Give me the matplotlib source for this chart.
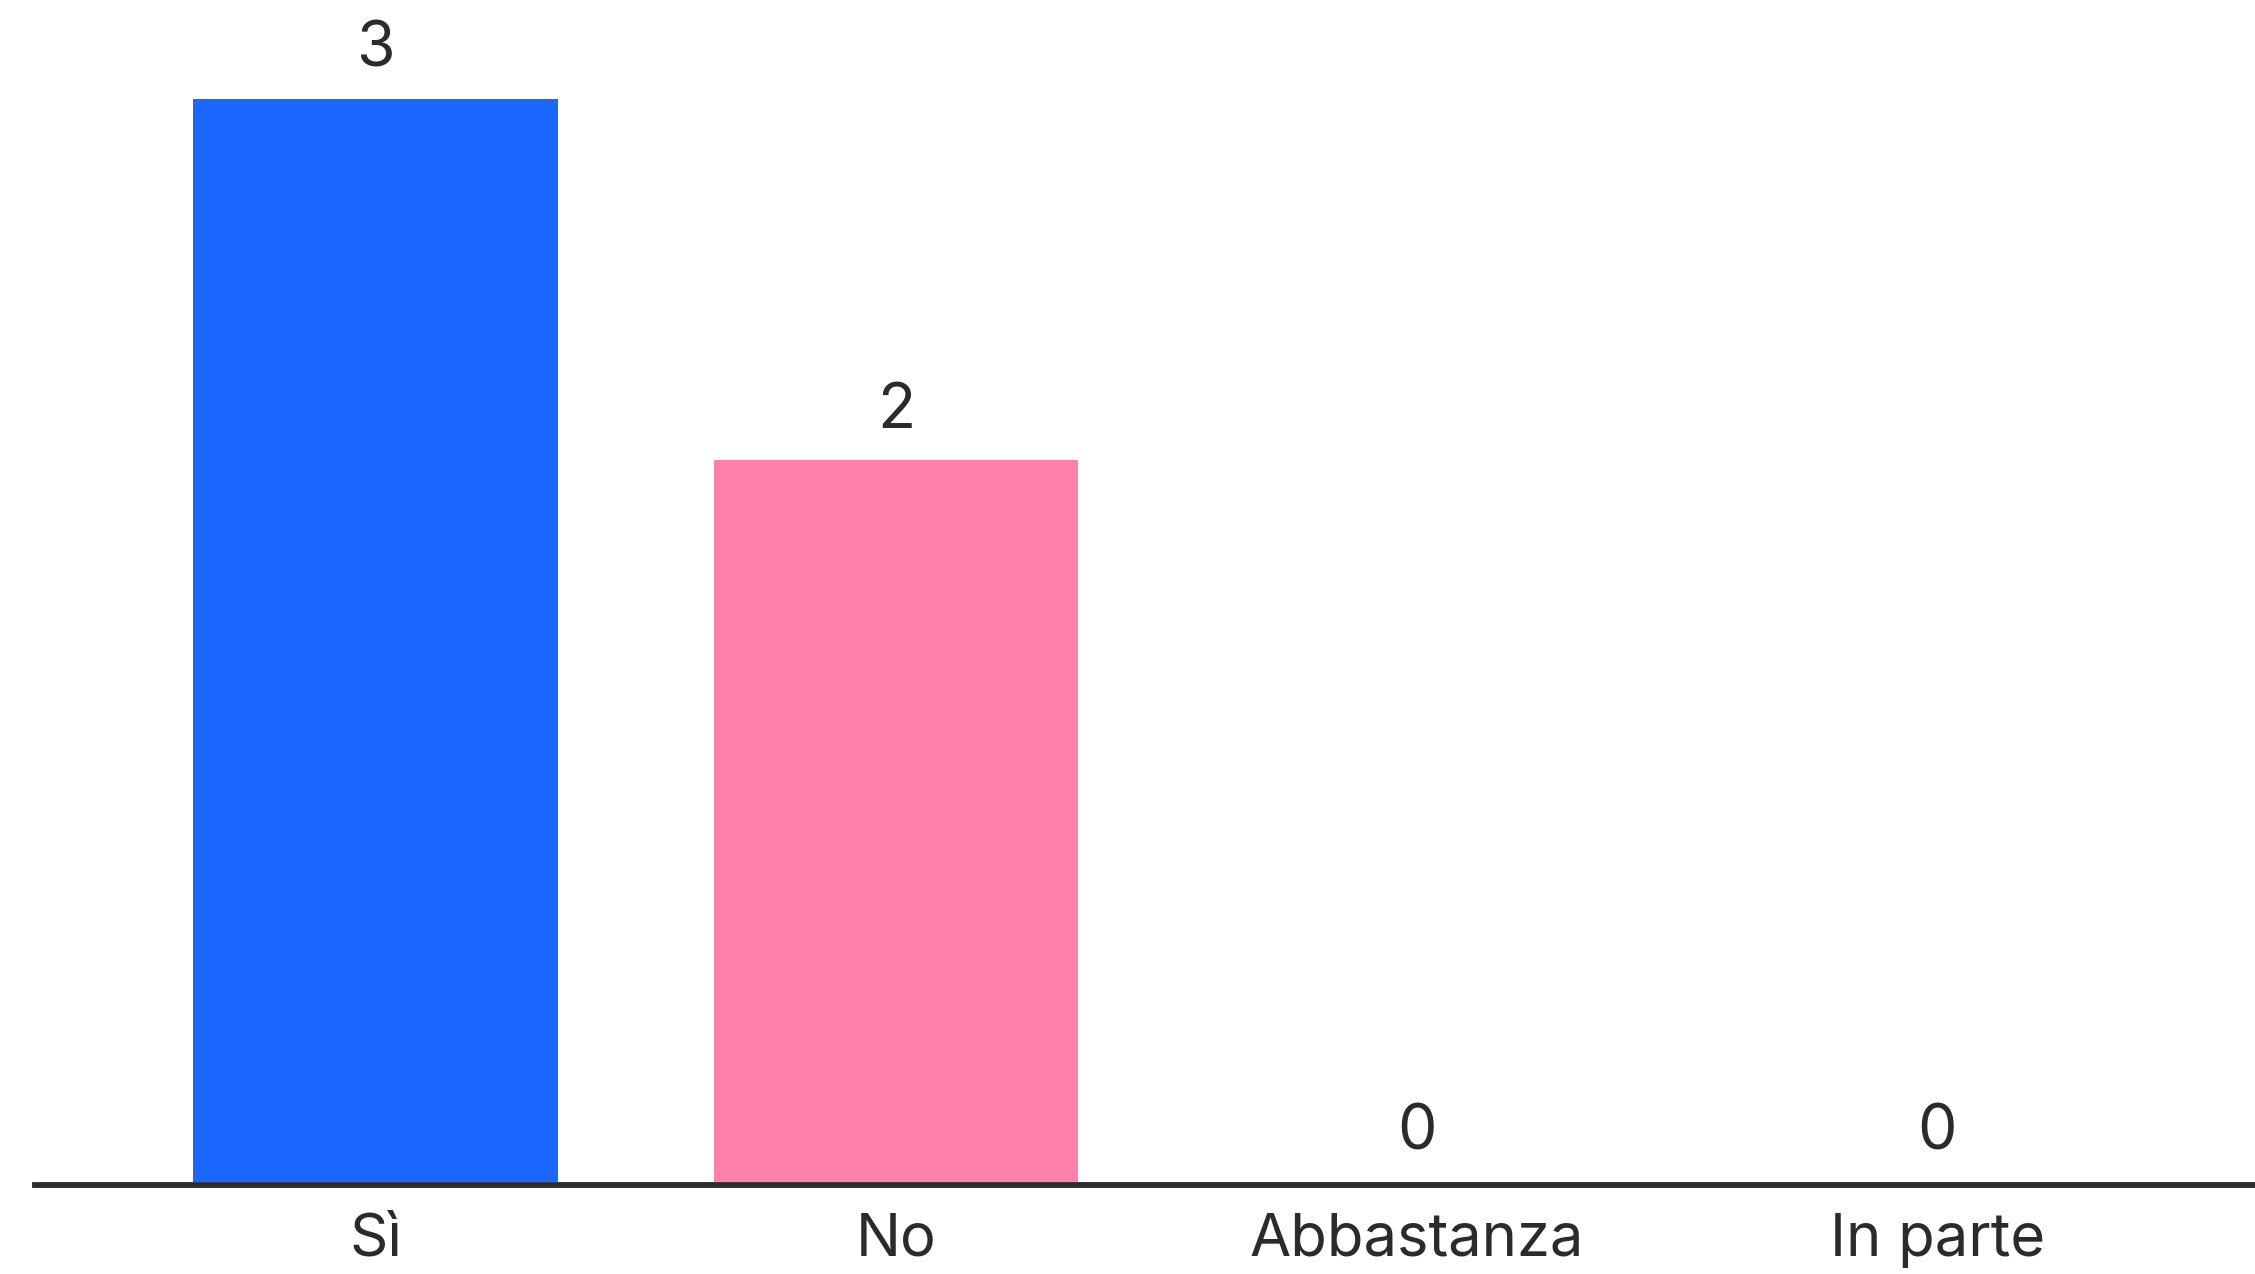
import matplotlib.pyplot as plt

categories = ["Sì", "No", "Abbastanza", "In parte"]
values = [3, 2, 0, 0]
colors = ["#1a68ff", "#ff80aa", "#8c8c8c", "#8c8c8c"]

plt.rcParams['font.family'] = ['Inter', 'DejaVu Sans']
text_color = "#2b2b2b"

fig = plt.figure(figsize=(22.55, 12.74), dpi=100)
ax = fig.add_axes([35 / 2255, 92 / 1274, 1 - 35 / 2255, 1 - 92 / 1274])

# spine first, moving it resets the tick settings
for side in ["top", "left", "right"]:
    ax.spines[side].set_visible(False)
ax.spines["bottom"].set_position(("outward", 2))
ax.spines["bottom"].set_linewidth(4.2)
ax.spines["bottom"].set_color(text_color)
ax.spines["bottom"].set_zorder(3)

x = range(len(categories))
bars = ax.bar(x, values, width=0.70, color=colors, zorder=2)

for xi, v in zip(x, values):
    ax.annotate(str(v), (xi, v), xytext=(0, 14), textcoords="offset points",
                ha="center", va="bottom", fontsize=45, color=text_color)

ax.set_xlim(-0.654, 3.61)
ax.set_ylim(0, 3.274)
ax.set_xticks(list(x))
ax.set_xticklabels(categories, fontsize=43, color=text_color)
ax.tick_params(axis="x", length=0, pad=20)
ax.set_yticks([])

fig.savefig("out.png", dpi=100)
plt.close()
